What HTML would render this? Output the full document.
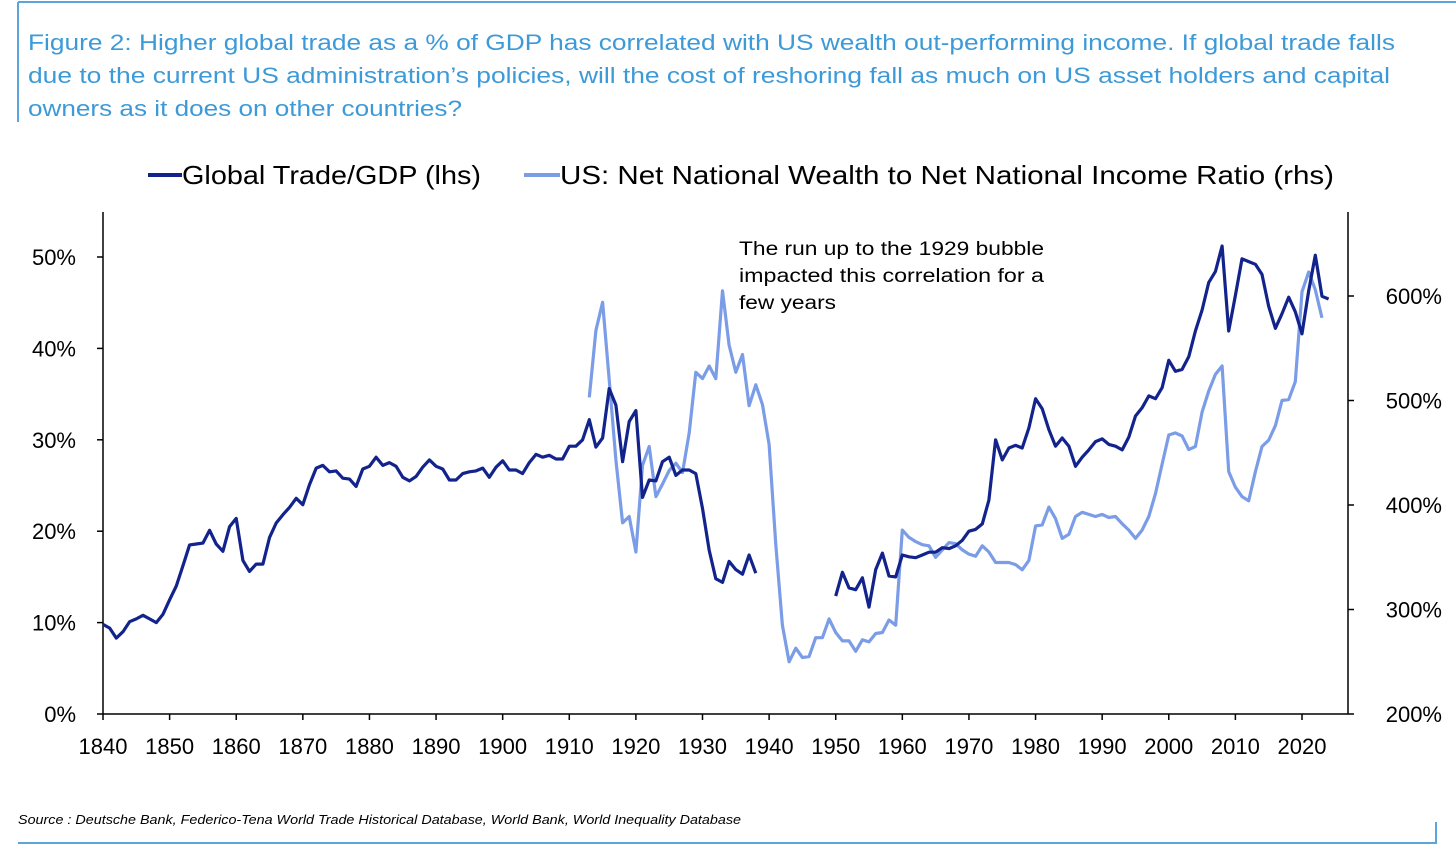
<!DOCTYPE html>
<html><head><meta charset="utf-8"><style>
body{margin:0;background:#fff;font-family:"Liberation Sans",sans-serif}
svg text{font-family:"Liberation Sans",sans-serif}
</style></head><body>
<svg id="chart" width="1456" height="854">
<line x1="18" y1="2" x2="1456" y2="2" stroke="#5aa6dc" stroke-width="2"/>
<line x1="18" y1="2" x2="18" y2="122" stroke="#5aa6dc" stroke-width="2"/>
<text x="28" y="50" font-size="22" fill="#3d9ad8" textLength="1367" lengthAdjust="spacingAndGlyphs">Figure 2: Higher global trade as a % of GDP has correlated with US wealth out-performing income. If global trade falls</text>
<text x="28" y="83" font-size="22" fill="#3d9ad8" textLength="1362" lengthAdjust="spacingAndGlyphs">due to the current US administration’s policies, will the cost of reshoring fall as much on US asset holders and capital</text>
<text x="28" y="116" font-size="22" fill="#3d9ad8" textLength="434" lengthAdjust="spacingAndGlyphs">owners as it does on other countries?</text>
<g>
<line x1="148" y1="175" x2="182" y2="175" stroke="#13238c" stroke-width="4"/>
<text x="182" y="184" font-size="26" fill="#000" textLength="299" lengthAdjust="spacingAndGlyphs">Global Trade/GDP (lhs)</text>
<line x1="524" y1="175" x2="560" y2="175" stroke="#7b9ce6" stroke-width="4"/>
<text x="560" y="184" font-size="26" fill="#000" textLength="774" lengthAdjust="spacingAndGlyphs">US: Net National Wealth to Net National Income Ratio (rhs)</text>
</g>
<g id="axes"></g>
<g id="series"></g>
<text x="739" y="255" font-size="19" fill="#000" textLength="305" lengthAdjust="spacingAndGlyphs">The run up to the 1929 bubble</text>
<text x="739" y="282" font-size="19" fill="#000" textLength="305" lengthAdjust="spacingAndGlyphs">impacted this correlation for a</text>
<text x="739" y="309" font-size="19" fill="#000" textLength="97" lengthAdjust="spacingAndGlyphs">few years</text>
<text x="18" y="824" font-size="12.5" font-style="italic" fill="#000" textLength="723" lengthAdjust="spacingAndGlyphs">Source : Deutsche Bank, Federico-Tena World Trade Historical Database, World Bank, World Inequality Database</text>
<line x1="18" y1="843" x2="1437" y2="843" stroke="#5aa6dc" stroke-width="2"/>
<line x1="1436" y1="822" x2="1436" y2="843" stroke="#5aa6dc" stroke-width="2"/>
</svg>
<script>
const tradeStartYear = 1840;
const tradeValues = [9.8,9.4,8.3,9.0,10.1,10.4,10.8,10.4,10.0,10.9,12.5,14.0,16.2,18.5,18.6,18.7,20.1,18.6,17.8,20.5,21.4,16.8,15.6,16.4,16.4,19.3,20.9,21.8,22.6,23.6,22.9,25.1,26.9,27.2,26.5,26.6,25.8,25.7,24.9,26.8,27.1,28.1,27.2,27.5,27.1,25.9,25.5,26.0,27.0,27.8,27.1,26.8,25.6,25.6,26.3,26.5,26.6,26.9,25.9,27.0,27.7,26.7,26.7,26.3,27.5,28.4,28.1,28.3,27.9,27.9,29.3,29.3,30.0,32.2,29.2,30.2,35.6,33.8,27.6,32.0,33.2,23.7,25.6,25.5,27.6,28.1,26.1,26.7,26.7,26.3,22.5,17.9,14.8,14.4,16.7,15.8,15.3,17.4,15.4,null,null,null,null,null,null,null,null,null,null,null,12.9,15.5,13.8,13.6,14.9,11.7,15.8,17.6,15.1,15.0,17.4,17.2,17.1,17.4,17.7,17.7,18.2,18.1,18.4,19.0,20.0,20.2,20.8,23.4,30.0,27.8,29.1,29.4,29.1,31.3,34.5,33.4,31.1,29.3,30.2,29.3,27.1,28.1,28.9,29.8,30.1,29.5,29.3,28.9,30.3,32.6,33.5,34.8,34.5,35.7,38.7,37.5,37.7,39.1,41.9,44.2,47.2,48.4,51.2,41.9,45.8,49.8,49.5,49.2,48.1,44.6,42.2,43.8,45.6,44.0,41.6,46.3,50.2,45.7,45.4];
const wealthStartYear = 1913;
const wealthValues = [503,567,594,520,443,383,389,355,438,456,408,420,433,440,431,469,527,521,533,521,605,553,527,544,495,515,496,458,362,285,250,263,254,255,273,273,291,278,270,270,260,271,269,277,278,290,285,376,369,365,362,361,350,357,364,363,357,353,351,361,355,345,345,345,343,338,347,380,381,398,387,368,372,389,393,391,389,391,388,389,382,376,368,376,389,411,439,467,469,466,453,456,489,509,525,533,432,417,408,404,432,456,462,476,500,501,518,604,623,606,579];
const xTicks = [1840,1850,1860,1870,1880,1890,1900,1910,1920,1930,1940,1950,1960,1970,1980,1990,2000,2010,2020];
const leftTicks = [0,10,20,30,40,50];
const rightTicks = [200,300,400,500,600];

const NS='http://www.w3.org/2000/svg';
const xS = y => 103 + (y-1840)*(1302-103)/180;
const yL = v => 714 - v*9.14;
const yR = v => 714 - (v-200)*1.045;
function mk(tag, attrs, parent, txt){const e=document.createElementNS(NS,tag);for(const k in attrs)e.setAttribute(k,attrs[k]);if(txt!==undefined)e.textContent=txt;parent.appendChild(e);return e;}
const ax=document.getElementById('axes'), sr=document.getElementById('series');
let e;
e=mk('line',{x1:103,y1:212,x2:103,y2:714,stroke:'#000','stroke-width':1.5},ax);


e=mk('line',{x1:1348,y1:212,x2:1348,y2:714,stroke:'#000','stroke-width':1.5},ax);


e=mk('line',{x1:103,y1:714,x2:1348,y2:714,stroke:'#000','stroke-width':1.5},ax);


xTicks.forEach(t=>{
  mk('line',{x1:xS(t),y1:714,x2:xS(t),y2:720,stroke:'#000','stroke-width':1.5},ax);
  e=mk('text',{x:xS(t),y:754,'font-size':22,'text-anchor':'middle'},ax,String(t));
  
  
});
leftTicks.forEach(t=>{
  mk('line',{x1:97,y1:yL(t),x2:103,y2:yL(t),stroke:'#000','stroke-width':1.5},ax);
  e=mk('text',{x:76,y:yL(t)+8,'font-size':22,'text-anchor':'end'},ax,t+'%');
  
  
});
rightTicks.forEach(t=>{
  mk('line',{x1:1348,y1:yR(t),x2:1354,y2:yR(t),stroke:'#000','stroke-width':1.5},ax);
  e=mk('text',{x:1442,y:yR(t)+8,'font-size':22,'text-anchor':'end'},ax,t+'%');
  
  
});
function path(vals,start,yf){let d='',pen=false;vals.forEach((v,i)=>{if(v===null){pen=false;return;}d+=(pen?'L':'M')+xS(start+i).toFixed(1)+' '+yf(v).toFixed(1);pen=true;});return d;}
e=mk('path',{d:path(wealthValues,wealthStartYear,yR),fill:'none',stroke:'#7b9ce6','stroke-width':3.2,'stroke-linejoin':'round'},sr);


e=mk('path',{d:path(tradeValues,tradeStartYear,yL),fill:'none',stroke:'#13238c','stroke-width':3.2,'stroke-linejoin':'round'},sr);


</script>
</body></html>
